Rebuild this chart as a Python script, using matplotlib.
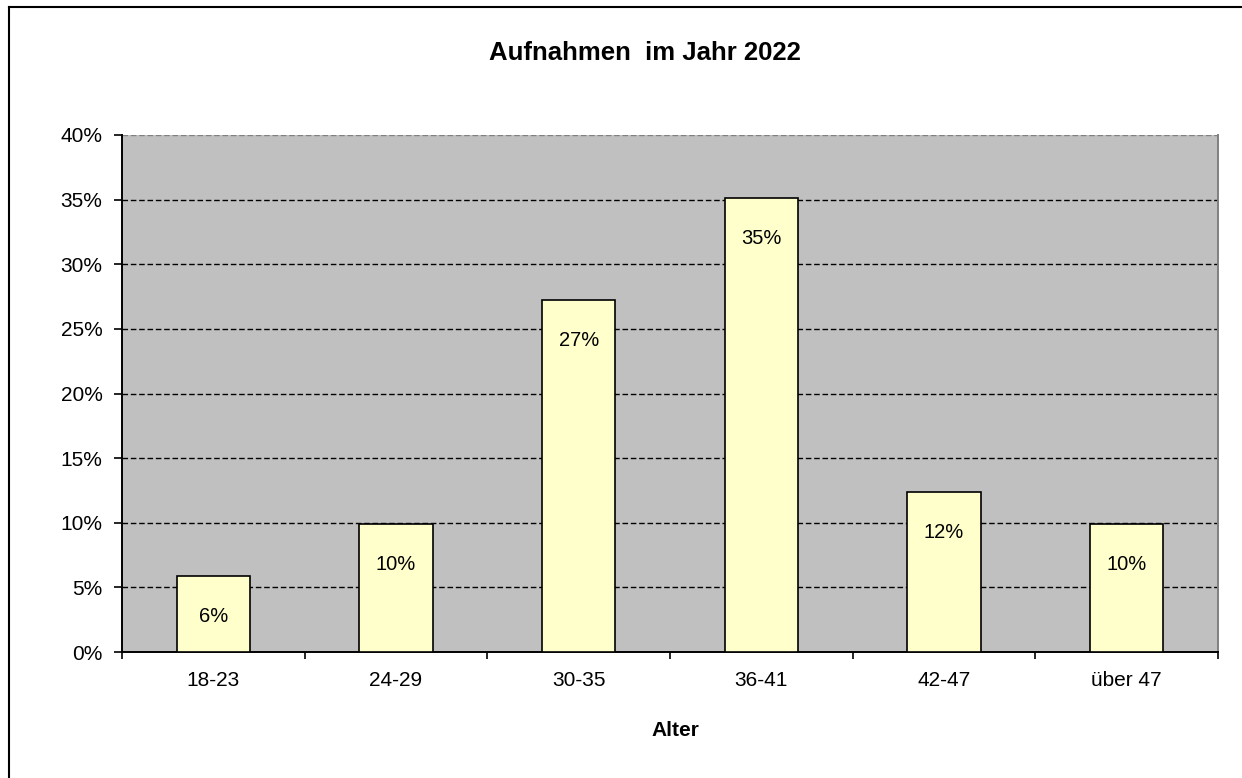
import matplotlib
matplotlib.use("Agg")
import matplotlib.pyplot as plt
from matplotlib.lines import Line2D
from matplotlib.ticker import FixedLocator, FuncFormatter

# Age groups and their share of admissions (percent)
categories = ["18-23", "24-29", "30-35", "36-41", "42-47", "über 47"]
shares = [5.9, 9.9, 27.2, 35.1, 12.4, 9.9]
y_ticks = [0, 5, 10, 15, 20, 25, 30, 35, 40]

title = "Aufnahmen  im Jahr 2022"
x_label = "Alter"

plt.rcParams["font.family"] = ["Liberation Sans", "DejaVu Sans"]

W, H, DPI = 1242, 778, 100
fig = plt.figure(figsize=(W / DPI, H / DPI), dpi=DPI)
fig.patch.set_facecolor("white")

ax = fig.add_axes([122 / W, (H - 652) / H, 1096 / W, 517 / H])
ax.set_facecolor("#C0C0C0")

x = list(range(len(categories)))
bars = ax.bar(x, shares, width=0.4, color="#FFFFCC", edgecolor="black",
              linewidth=1.2, zorder=3)

ax.set_xlim(-0.5, len(categories) - 0.5)
ax.set_ylim(0, 40)

# dashed horizontal gridlines
for t in y_ticks[1:-1]:
    ax.axhline(t, color="black", linewidth=1.0, linestyle=(0, (4, 2.0)), zorder=1)
ax.axhline(40, color="#808080", linewidth=1.0, linestyle=(0, (4, 2.0)), zorder=1)

ax.yaxis.set_major_locator(FixedLocator(y_ticks))
ax.yaxis.set_major_formatter(FuncFormatter(lambda v, p: f"{v:.0f}%"))
ax.xaxis.set_major_locator(FixedLocator([i - 0.5 for i in range(len(categories) + 1)]))
ax.xaxis.set_major_formatter(FuncFormatter(lambda v, p: ""))
ax.xaxis.set_minor_locator(FixedLocator(x))
ax.set_xticklabels(categories, minor=True)

ax.tick_params(axis="y", direction="out", length=6, width=1.2, labelsize=15,
               pad=8, colors="black")
ax.tick_params(axis="x", which="major", direction="out", length=5, width=1.2)
ax.tick_params(axis="x", which="minor", length=0, labelsize=15, pad=14)

for side in ("left", "bottom"):
    ax.spines[side].set_color("black")
    ax.spines[side].set_linewidth(1.4)
ax.spines["top"].set_visible(False)
ax.spines["right"].set_color("#808080")
ax.spines["right"].set_linewidth(1.4)

# value labels inside the top of each bar
for xi, v in zip(x, shares):
    ax.annotate(f"{v:.0f}%", xy=(xi, v), xytext=(0, -29), textcoords="offset points",
                ha="center", va="center", fontsize=14.5, zorder=4)

fig.text(645 / W, 1 - 53 / H, title, ha="center", va="center",
         fontsize=18.5, fontweight="bold")
fig.text(675 / W, 1 - 730 / H, x_label, ha="center", va="center",
         fontsize=15, fontweight="bold")

# outer chart frame
fig.add_artist(Line2D([8.5 / W, 8.5 / W], [0, 1 - 6.5 / H], transform=fig.transFigure,
                      color="black", linewidth=1.5))
fig.add_artist(Line2D([8.5 / W, 1], [1 - 6.5 / H, 1 - 6.5 / H], transform=fig.transFigure,
                      color="black", linewidth=1.5))

fig.savefig("out.png", dpi=DPI)
